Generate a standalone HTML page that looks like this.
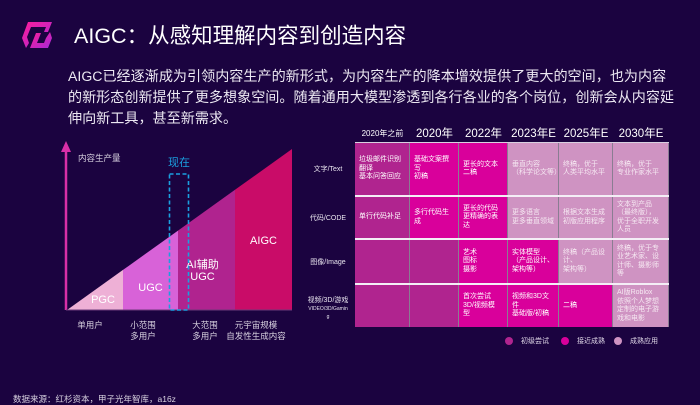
<!DOCTYPE html>
<html><head><meta charset="utf-8"><style>
*{margin:0;padding:0;box-sizing:border-box}
body{width:700px;height:405px;background:#1b0340;overflow:hidden;position:relative;font-family:"Liberation Sans","Noto Sans CJK SC",sans-serif;color:#fff}
.abs{position:absolute}
.cell{position:absolute;display:flex;align-items:center;padding-left:4px;font-size:7px;line-height:8.5px;color:#fff;border-right:1px solid #8a7d92}
.hdr{position:absolute;top:125px;height:16px;text-align:center;font-size:11.5px;color:#fff}
.rl{position:absolute;left:300px;width:56px;text-align:center;font-size:7px;line-height:8px;color:#e8e4ee}
.leg{position:absolute;top:336px;font-size:7px;color:#e0d8e8;display:flex;align-items:center}
.leg i{display:inline-block;width:8px;height:8px;border-radius:50%;margin-right:8px}
</style></head><body>
<svg class="abs" style="left:0;top:0" width="60" height="60">
<defs><linearGradient id="lg" x1="0" y1="0" x2="1" y2="1"><stop offset="0" stop-color="#ff1c9a"/><stop offset="1" stop-color="#a52ad8"/></linearGradient></defs>
<path d="M28 22 L52 22 L48 32 L44 32 L46 27 L31 27 L27 37 L29 43 L26 48 L22 38 Z" fill="url(#lg)"/>
<path d="M34 48 L48 48 L52 38 L50 32 L46 38 L44 43 L37 43 L41 33 L36 33 L30 48 Z" fill="url(#lg)"/>
</svg>
<div class="abs" style="left:74px;top:22px;font-size:21.5px;line-height:28px;color:#fff">AIGC：从感知理解内容到创造内容</div>
<div class="abs" style="left:68px;top:66px;width:630px;font-size:14.1px;line-height:21px;color:#ece8f2;white-space:nowrap">AIGC已经逐渐成为引领内容生产的新形式，为内容生产的降本增效提供了更大的空间，也为内容<br>的新形态创新提供了更多想象空间。随着通用大模型渗透到各行各业的各个岗位，创新会从内容延<br>伸向新工具，甚至新需求。</div>

<svg id="ch" class="abs" style="left:0;top:0" width="340" height="360"></svg>

<div class="hdr" style="left:355px;width:55px;font-size:8px;top:128px">2020年之前</div>
<div class="hdr" style="left:410px;width:49px">2020年</div>
<div class="hdr" style="left:459px;width:49px">2022年</div>
<div class="hdr" style="left:508px;width:51px">2023年E</div>
<div class="hdr" style="left:559px;width:54px">2025年E</div>
<div class="hdr" style="left:613px;width:56px">2030年E</div>
<div class="abs" style="left:355px;top:142px;width:314px;height:1.5px;background:#d8d0e0"></div>
<div id="tbl"></div>
<div class="rl" style="top:166px">文字/Text</div>
<div class="rl" style="top:215px">代码/CODE</div>
<div class="rl" style="top:259px">图像/Image</div>
<div class="rl" style="top:297px">视频/3D/游戏<br><span style="font-size:5px;line-height:5px">VIDEO/3D/Gamin<br>g</span></div>
<div class="leg" style="left:505px"><i style="background:#b0248f"></i>初级尝试</div>
<div class="leg" style="left:561px"><i style="background:#d9009b"></i>接近成熟</div>
<div class="leg" style="left:614px"><i style="background:#cf93c2"></i>成熟应用</div>
<div class="abs" style="left:13px;top:393px;font-size:8.5px;color:#d8d2e0">数据来源：红杉资本，甲子光年智库，a16z</div>
<script>
const stageNames=["PGC","UGC","AI辅助 UGC","AIGC"];
const stageEnds=[0.25,0.50,0.75,1.0];
const stageColors=["#eeb0d6","#d862d8","#b0238f","#c90c68"];
const xLabels=[["单用户"],["小范围","多用户"],["大范围","多用户"],["元宇宙规模","自发性生成内容"]];
const x0=67,x1=292,yb=310,yt=149;
const px=[67,123,178,235,292];
function sx(i){return px[i];}
function yAt(x){return yb-(x-x0)/(x1-x0)*(yb-yt);}
const svg=document.getElementById('ch');const NS='http://www.w3.org/2000/svg';
function mk(t,a){const e=document.createElementNS(NS,t);for(const k in a)e.setAttribute(k,a[k]);svg.appendChild(e);return e;}
stageEnds.forEach((v,i)=>{const a=sx(i),b=sx(i+1);
const p=mk('polygon',{points:`${a},${yb} ${a},${yAt(a)} ${b},${yAt(b)} ${b},${yb}`,fill:stageColors[i]});


const t=mk('text',{x:(a+b)/2+(i==0?8:i==1?0:i==2?-4:0),y:i==0?303:i==1?291:i==2?268:244,'text-anchor':'middle','font-size':'11',fill:'#fff','font-family':'Liberation Sans,Noto Sans CJK SC,sans-serif'});
if(i==2){t.innerHTML='<tspan x="'+((a+b)/2-4)+'">AI辅助</tspan><tspan x="'+((a+b)/2-4)+'" dy="12">UGC</tspan>';}else t.textContent=stageNames[i];


const xl=xLabels[i];const cx=[90,143,205,256][i];
xl.forEach((s,j)=>{const l=mk('text',{x:cx,y:328+j*11,'text-anchor':'middle','font-size':'8.5',fill:'#d8d2e0','font-family':'Liberation Sans,Noto Sans CJK SC,sans-serif'});l.textContent=s;

});
});
const ax=mk('line',{x1:66,y1:310,x2:66,y2:150,stroke:'#d92fa8','stroke-width':2.5});


mk('polygon',{points:'61,152 71,152 66,141',fill:'#d92fa8'});
mk('line',{x1:66,y1:310,x2:292,y2:310,stroke:'#6b3a7a','stroke-width':1});
const yt2=mk('text',{x:78,y:161,'font-size':'8.5',fill:'#d8d2e0','font-family':'Liberation Sans,Noto Sans CJK SC,sans-serif'});yt2.textContent='内容生产量';


const bx=mk('rect',{x:169.5,y:174,width:19,height:136,fill:'none',stroke:'#1aa0e0','stroke-width':1.6,'stroke-dasharray':'4,2.5'});


const nt=mk('text',{x:179,y:166,'text-anchor':'middle','font-size':'11',fill:'#1aa0e0','font-family':'Liberation Sans,Noto Sans CJK SC,sans-serif'});nt.textContent='现在';



const colX=[355,410,459,508,559,613,669];
const rowY=[143,197,240,285,327];
const C={m:"#b0248f",b:"#d9009b",l:"#cf93c2"};
const levels=[["m","b","b","l","l","l"],["m","b","b","l","l","l"],["m","m","b","b","l","l"],["m","m","b","b","b","l"]];
const texts=[
["垃圾邮件识别<br>翻译<br>基本问答回应","基础文案撰<br>写<br>初稿","更长的文本<br>二稿","垂直内容<br>（科学论文等）","终稿，优于<br>人类平均水平","终稿，优于<br>专业作家水平"],
["单行代码补足","多行代码生<br>成","更长的代码<br>更精确的表<br>达","更多语言<br>更多垂直领域","根据文本生成<br>初版应用程序","文本到产品<br>（最终版），<br>优于全职开发<br>人员"],
["","","艺术<br>图标<br>摄影","实体模型<br>（产品设计、<br>架构等）","终稿（产品设<br>计、<br>架构等）","终稿，优于专<br>业艺术家、设<br>计师、摄影师<br>等"],
["","","首次尝试<br>3D/视频模<br>型","视频和3D文<br>件<br>基础版/初稿","二稿","AI版Roblox<br>依照个人梦想<br>定制的电子游<br>戏和电影"]];
const tb=document.getElementById('tbl');
levels.forEach((row,r)=>row.forEach((lv,c)=>{const d=document.createElement('div');d.className='cell';
d.style.left=colX[c]+'px';d.style.top=rowY[r]+'px';d.style.width=(colX[c+1]-colX[c])+'px';d.style.height=(rowY[r+1]-rowY[r]-(r<3?2:0))+'px';
d.style.background=C[lv];d.style.color=lv=='l'?'#f6e8f2':'#fff';d.innerHTML='<div>'+texts[r][c]+'</div>';


tb.appendChild(d);}));
[1,2,3].forEach(r=>{const l=document.createElement('div');l.className='abs';l.style.cssText=`left:355px;top:${rowY[r]-2}px;width:314px;height:2px;background:#f4eef6`;tb.appendChild(l);});
</script>
</body></html>
